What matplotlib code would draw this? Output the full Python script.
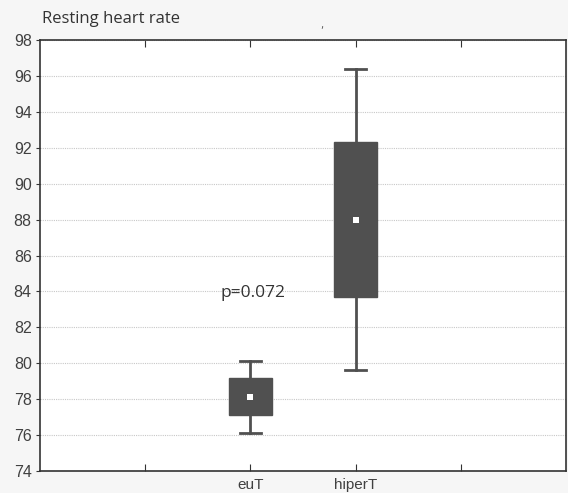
import matplotlib
matplotlib.use("Agg")
import matplotlib.pyplot as plt

groups = ["euT", "hiperT"]
positions = [2, 3]
whisker_low = [76.1, 79.6]
box_low = [77.1, 83.7]
centre = [78.1, 88.0]
box_high = [79.2, 92.3]
whisker_high = [80.15, 96.4]

BOX_COLOR = "#505050"

fig = plt.figure(figsize=(5.68, 4.93), dpi=100, facecolor="#f6f6f6")
ax = fig.add_axes([40 / 568, 22 / 493, 526 / 568, 431 / 493])
ax.set_facecolor("white")

stats = []
for i, g in enumerate(groups):
    stats.append({
        "label": g,
        "whislo": whisker_low[i],
        "q1": box_low[i],
        "med": centre[i],
        "q3": box_high[i],
        "whishi": whisker_high[i],
        "fliers": [],
    })

ax.bxp(stats, positions=positions, widths=0.41, patch_artist=True,
       showfliers=False, showcaps=True,
       boxprops=dict(facecolor=BOX_COLOR, edgecolor=BOX_COLOR, linewidth=1),
       whiskerprops=dict(color=BOX_COLOR, linewidth=2),
       capprops=dict(color=BOX_COLOR, linewidth=2),
       medianprops=dict(linewidth=0),
       capwidths=0.2, zorder=3)
ax.scatter(positions, centre, marker="s", s=18, color="white", zorder=4, linewidths=0)

ax.set_xlim(0, 5)
ax.set_ylim(74, 98)
ax.set_yticks(range(74, 99, 2))
ax.set_xticks([1, 2, 3, 4])
ax.set_xticklabels(["", "euT", "hiperT", ""])
ax.yaxis.grid(True, linestyle=(0, (1, 1)), color="#c8c8c8", linewidth=0.8)
ax.set_axisbelow(True)

ax.tick_params(axis="x", direction="in", length=5, pad=5, top=True,
               labelsize=11, labelcolor="#404040", color="#333333")
ax.tick_params(axis="y", direction="out", length=3, pad=3,
               labelsize=11.5, labelcolor="#404040", color="#333333")
for lab in ax.get_xticklabels() + ax.get_yticklabels():
    lab.set_family("Liberation Sans")
for s in ax.spines.values():
    s.set_color("#333333")
    s.set_linewidth(1.2)

ax.text(2.02, 83.9, "p=0.072", ha="center", va="center", fontsize=12.5,
        family="Open Sans", color="#333333")
fig.text(42 / 568, 1 - 19 / 493, "Resting heart rate", ha="left", va="center",
         fontsize=12, family="Open Sans", color="#333333")
fig.text(322 / 568, 1 - 25 / 493, ",", ha="center", va="center",
         fontsize=7, color="#555555")

fig.savefig("out.png", dpi=100, facecolor=fig.get_facecolor())
